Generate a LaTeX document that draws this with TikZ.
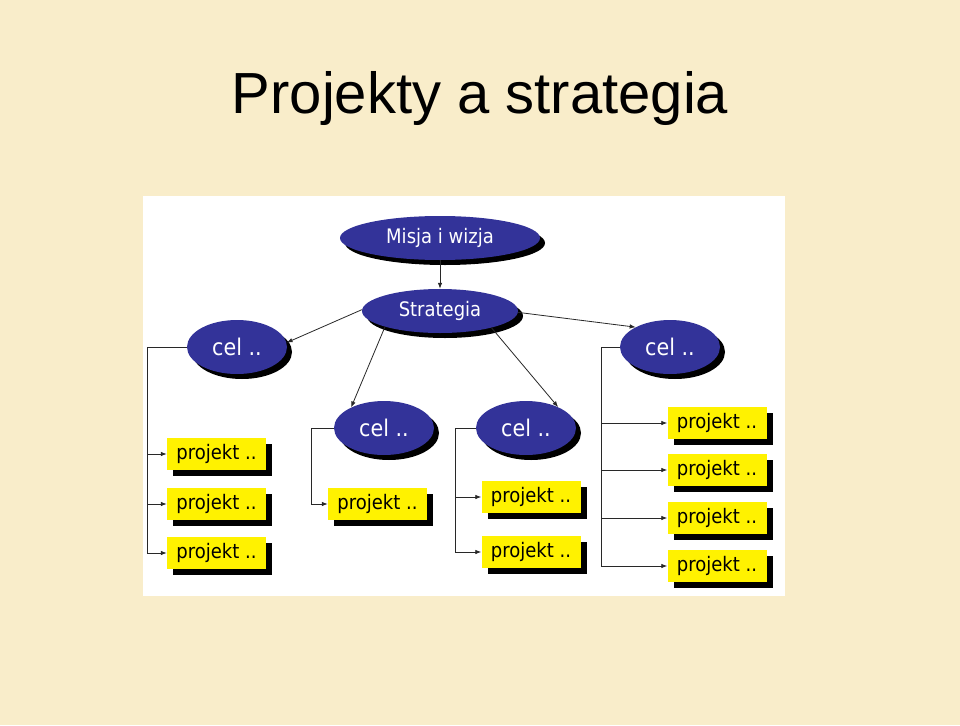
\documentclass[tikz,border=0pt]{standalone}
\usepackage{fontspec}
\setmainfont{Liberation Sans}
\newfontfamily\diagfont[FakeStretch=0.9]{DejaVu Sans}
\usetikzlibrary{shapes.geometric,arrows.meta,shadows}
\definecolor{parch}{RGB}{249,237,202}
\definecolor{celblue}{RGB}{51,51,153}
\definecolor{linegray}{RGB}{40,40,40}
\tikzset{
  oval/.style={ellipse, fill=celblue, text=white, inner sep=0pt,
    font=\diagfont\fontsize{20}{24}\selectfont,
    drop shadow={shadow xshift=5pt, shadow yshift=-5pt, fill=black, opacity=1}},
  celoval/.style={oval, minimum width=100pt, minimum height=54pt,
    font=\diagfont\fontsize{23}{26}\selectfont},
  projbox/.style={rectangle, fill=yellow, text=black, inner sep=0pt,
    minimum width=99pt, minimum height=32pt,
    font=\diagfont\fontsize{20}{24}\selectfont,
    drop shadow={shadow xshift=6pt, shadow yshift=-6pt, fill=black, opacity=1}},
  conn/.style={draw=linegray, line width=0.8pt, -{Latex[length=6pt,width=4.5pt]}},
}
\begin{document}
\begin{tikzpicture}[x=1pt,y=-1pt]
\useasboundingbox (0,0) rectangle (960,725);
\fill[parch] (0,0) rectangle (960,725);
\fill[white] (143,196) rectangle (785,596);
\node[font=\fontsize{58}{62}\selectfont, anchor=base] (title) at (480,113) {Projekty a strategia};

\node[oval, minimum width=200pt, minimum height=44pt] (misja) at (440,238) {Misja i wizja};
\node[oval, minimum width=156pt, minimum height=44pt] (strat) at (440,311) {Strategia};
\node[celoval] (celL) at (237,347) {cel ..};
\node[celoval] (celR) at (670,347) {cel ..};
\node[celoval] (celML) at (384,428) {cel ..};
\node[celoval] (celMR) at (526,428) {cel ..};

\node[projbox] (pL1) at (216.5,454) {projekt ..};
\node[projbox] (pL2) at (216.5,504) {projekt ..};
\node[projbox] (pL3) at (216.5,553) {projekt ..};
\node[projbox] (pML1) at (377.5,504) {projekt ..};
\node[projbox] (pMR1) at (531,497) {projekt ..};
\node[projbox] (pMR2) at (531,552) {projekt ..};
\node[projbox] (pR1) at (717,423) {projekt ..};
\node[projbox] (pR2) at (717,470) {projekt ..};
\node[projbox] (pR3) at (717,518) {projekt ..};
\node[projbox] (pR4) at (717,566) {projekt ..};

\draw[conn] (misja.south) -- (strat.north);
\draw[conn] (strat.179) -- (celL.5);
\draw[conn] (strat.196) -- (celML.148);
\draw[conn] (strat.342) -- (celMR.33);
\draw[conn] (strat.359) -- (celR.150);

\foreach \p in {pL1,pL2,pL3}
  \draw[conn] (celL.west) -- ++(-39,0) |- (\p.west);
\draw[conn] (celML.west) -- ++(-22,0) |- (pML1.west);
\foreach \p in {pMR1,pMR2}
  \draw[conn] (celMR.west) -- ++(-20,0) |- (\p.west);
\foreach \p in {pR1,pR2,pR3,pR4}
  \draw[conn] (celR.west) -- ++(-18,0) |- (\p.west);
\end{tikzpicture}
\end{document}
